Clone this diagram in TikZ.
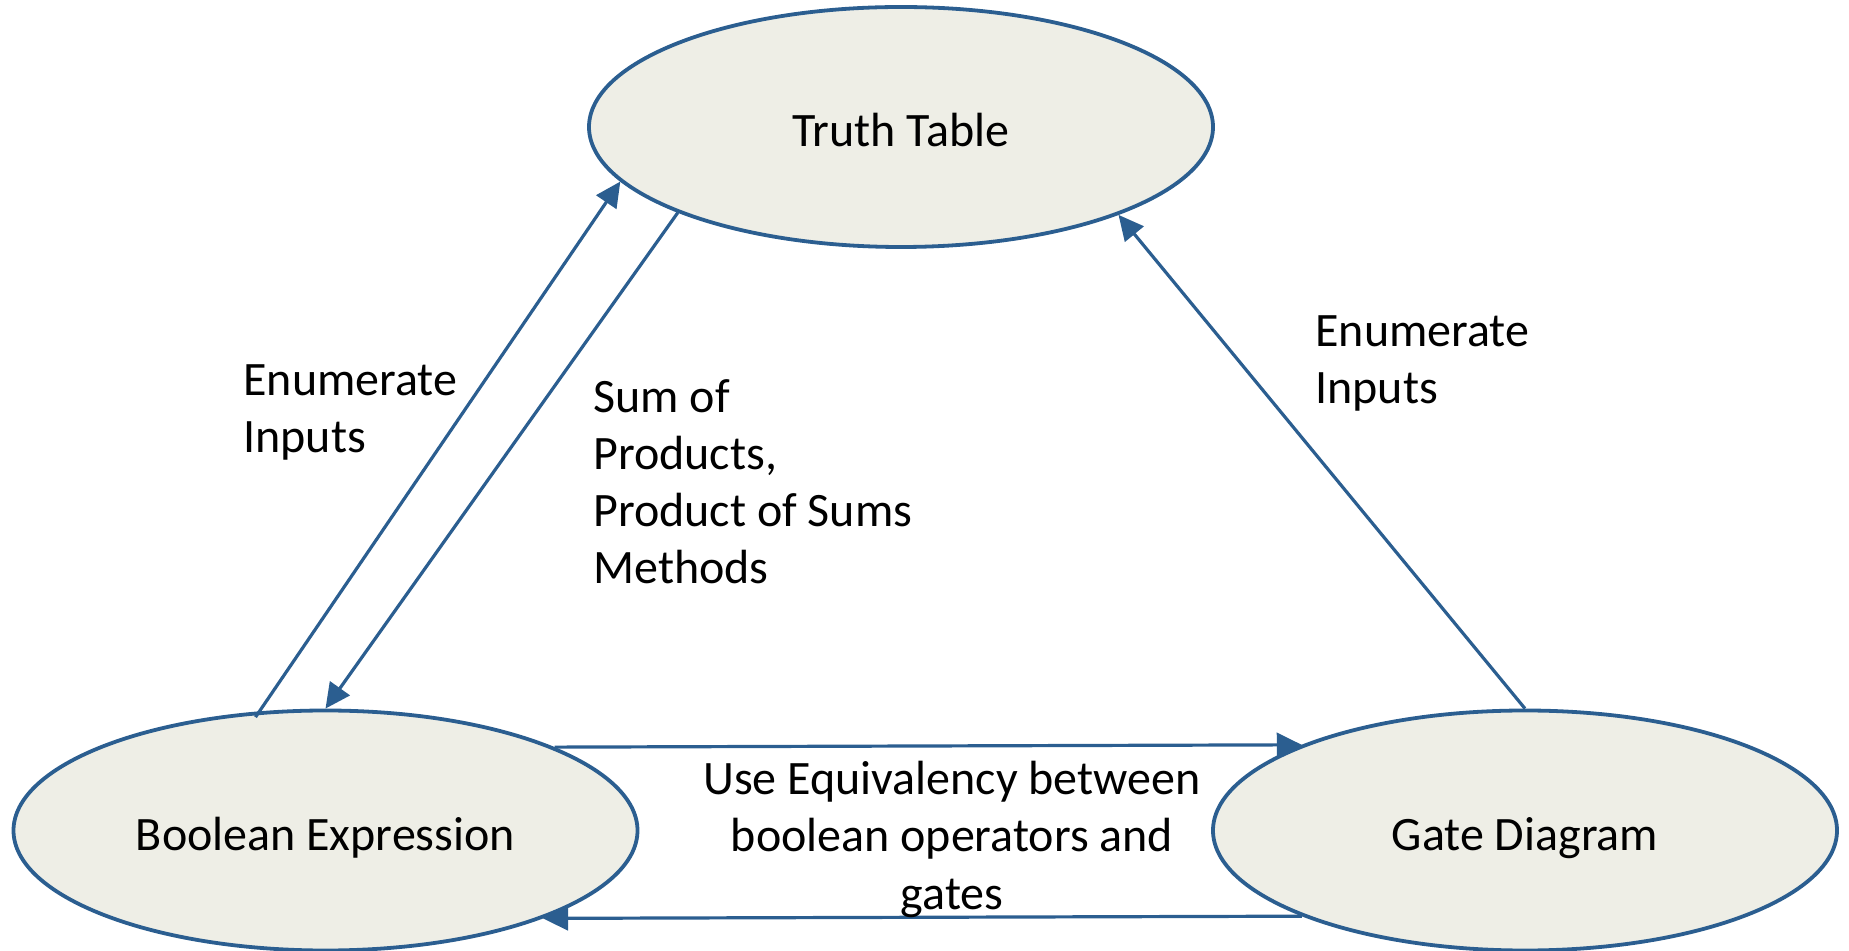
\documentclass[tikz,border=0pt]{standalone}
\usepackage{fontspec}
\setmainfont{Carlito}
\usetikzlibrary{arrows.meta,shapes.geometric}
\definecolor{edgeblue}{HTML}{2B5E90}
\definecolor{statefill}{HTML}{EEEEE6}
\begin{document}
\begin{tikzpicture}[x=0.5pt,y=-0.5pt,
  state/.style={ellipse,draw=edgeblue,fill=statefill,line width=1.9pt,
    minimum width=312pt,minimum height=120pt,inner sep=0pt,
    text height=20pt,text depth=0pt,
    font=\fontsize{24}{28.6}\selectfont},
  conn/.style={draw=edgeblue,line width=1.6pt,
    -{Triangle[length=12.5pt,width=12pt]}},
  lbl/.style={inner sep=0pt,font=\fontsize{24}{28.6}\selectfont}]
\useasboundingbox (0,0) rectangle (1849,951);
\node[state] (tt) at (901,127) {Truth Table};
\node[state] (be) at (325.5,830.5) {Boolean Expression};
\node[state] (gd) at (1525,830.5) {Gate Diagram};
\draw[conn,shorten <=-3.5pt] (be.119) -- (tt.191.3);
\draw[conn] (tt.201.3) -- (be.north);
\draw[conn] (gd.north) -- (tt.338.7);
\draw[conn] (be.20.45) -- (gd.159.55);
\draw[conn] (gd.201.3) -- (be.338.7);
\node[lbl,anchor=north west,align=left] (l1) at (243,364) {Enumerate\\Inputs};
\node[lbl,anchor=north west,align=left] (l2) at (593,379) {Sum of\\Products,\\Product of Sums\\Methods};
\node[lbl,anchor=north west,align=left] (l3) at (1315,315) {Enumerate\\Inputs};
\node[lbl,anchor=north,align=center] (l4) at (952,761) {Use Equivalency between\\boolean operators and\\gates};
\end{tikzpicture}
\end{document}
